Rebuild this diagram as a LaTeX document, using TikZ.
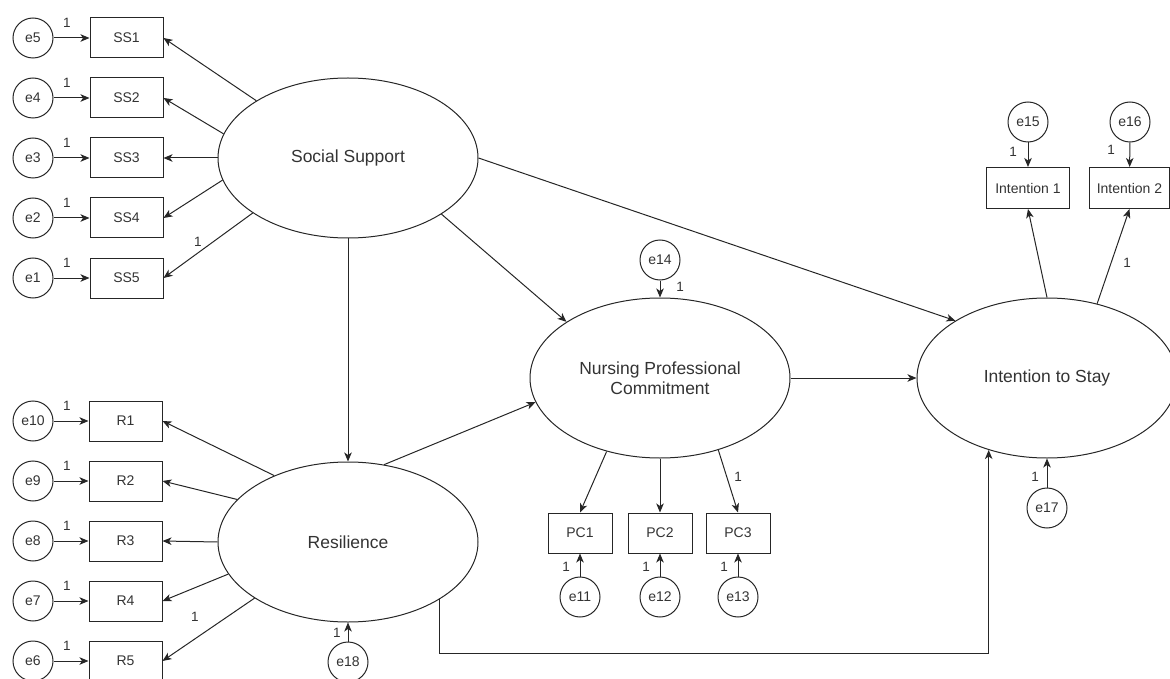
\documentclass[tikz,border=0pt]{standalone}
\usepackage{fontspec}
\setmainfont{Liberation Sans}
\usetikzlibrary{arrows.meta,shapes.geometric}
\begin{document}
\begin{tikzpicture}[x=1pt,y=-1pt,
  lat/.style={ellipse, draw=black!85, line width=1pt, minimum width=260pt, minimum height=160pt, inner sep=0pt, align=center, text=black!80, font=\fontsize{17.5}{21}\selectfont},
  obs/.style={rectangle, draw=black!85, line width=1pt, minimum width=73pt, minimum height=40pt, inner sep=0pt, text=black!80, font=\fontsize{14}{16}\selectfont},
  err/.style={circle, draw=black!85, line width=1pt, minimum size=40pt, inner sep=0pt, text=black!80, font=\fontsize{14}{16}\selectfont},
  lbl/.style={inner sep=0pt, text=black!80, font=\fontsize{13.5}{16}\selectfont},
  arr/.style={draw=black!85, line width=1pt, -{Stealth[length=9pt,width=7.5pt,inset=2.5pt]}}
]
\useasboundingbox (0,0) rectangle (1170,679);

% latent variables
\node[lat] (ss)  at (348,158) {Social Support};
\node[lat] (res) at (348,542) {Resilience};
\node[lat] (npc) at (660,378) {Nursing Professional\\[-1pt]Commitment};
\node[lat] (its) at (1047,378) {Intention to Stay};

% social support indicators
\foreach \i/\e/\y in {1/5/38, 2/4/98, 3/3/158, 4/2/218, 5/1/278} {
  \node[obs] (ss\i) at (126.5,\y) {SS\i};
  \node[err] (e\e) at (33,\y) {e\e};
  \draw[arr] (e\e) -- (ss\i);
  \node[lbl] at (67,\y-15) {1};
}
% resilience indicators
\foreach \i/\e/\y in {1/10/421, 2/9/481, 3/8/541, 4/7/601, 5/6/661} {
  \node[obs] (r\i) at (125.5,\y) {R\i};
  \node[err] (e\e) at (33,\y) {e\e};
  \draw[arr] (e\e) -- (r\i);
  \node[lbl] at (67,\y-15) {1};
}

\draw[arr] (ss.148.9) -- (ss1.east);
\draw[arr] (ss.169.1) -- (ss2.east);
\draw[arr] (ss.west) -- (ss3.east);
\draw[arr] (ss.190.9) -- (ss4.east);
\draw[arr] (ss.210.6) -- (ss5.east);
\node[lbl] at (198,242) {1};

\draw[arr] (res.138.2) -- (r1.east);
\draw[arr] (res.159.6) -- (r2.east);
\draw[arr] (res.west) -- (r3.east);
\draw[arr] (res.195.1) -- (r4.east);
\draw[arr] (res.211) -- (r5.east);
\node[lbl] at (195,617) {1};

% e18
\node[err] (e18) at (348,662) {e18};
\draw[arr] (e18) -- (res.south);
\node[lbl] at (337,633) {1};

% structural paths
\draw[arr] (ss.south) -- (res.north);
\draw[arr] (ss.329.1) -- (npc.149.2);
\draw[arr] (ss.east) -- (its.148.1);
\draw[arr] (res.65.8) -- (npc.191.3);
\draw[arr] (npc.east) -- (its.west);
\coordinate (loopy) at (0,653);
\draw[arr] (res.328.7) -- (res.328.7 |- loopy) -| (its.231.6);

% NPC indicators
\node[err] (e14) at (660,260) {e14};
\draw[arr] (e14) -- (npc.north);
\node[lbl] at (680,287) {1};
\foreach \i/\e/\x in {1/11/580, 2/12/660, 3/13/738} {
  \node[obs, minimum width=64pt] (pc\i) at (\x,533) {PC\i};
  \node[err] (e\e) at (\x,597) {e\e};
  \draw[arr] (e\e) -- (pc\i);
  \node[lbl] at (\x-14,567) {1};
}
\draw[arr] (npc.234.9) -- (pc1.north);
\draw[arr] (npc.south) -- (pc2.north);
\draw[arr] (npc.309.8) -- (pc3.north);
\node[lbl] at (738,477) {1};

% ITS indicators
\node[obs, minimum width=83pt, minimum height=41pt] (in1) at (1028,188) {Intention 1};
\node[obs, minimum width=80pt, minimum height=41pt] (in2) at (1129.5,188) {Intention 2};
\node[err] (e15) at (1028,122) {e15};
\node[err] (e16) at (1130,122) {e16};
\draw[arr] (e15) -- (in1);
\draw[arr] (e16) -- (in2);
\node[lbl] at (1013,152) {1};
\node[lbl] at (1111,150) {1};
\draw[arr] (its.north) -- (in1.south);
\draw[arr] (its.56.8) -- (in2.south);
\node[lbl] at (1127,263) {1};
\node[err] (e17) at (1047,508) {e17};
\draw[arr] (e17) -- (its.south);
\node[lbl] at (1035,477) {1};
\end{tikzpicture}
\end{document}
